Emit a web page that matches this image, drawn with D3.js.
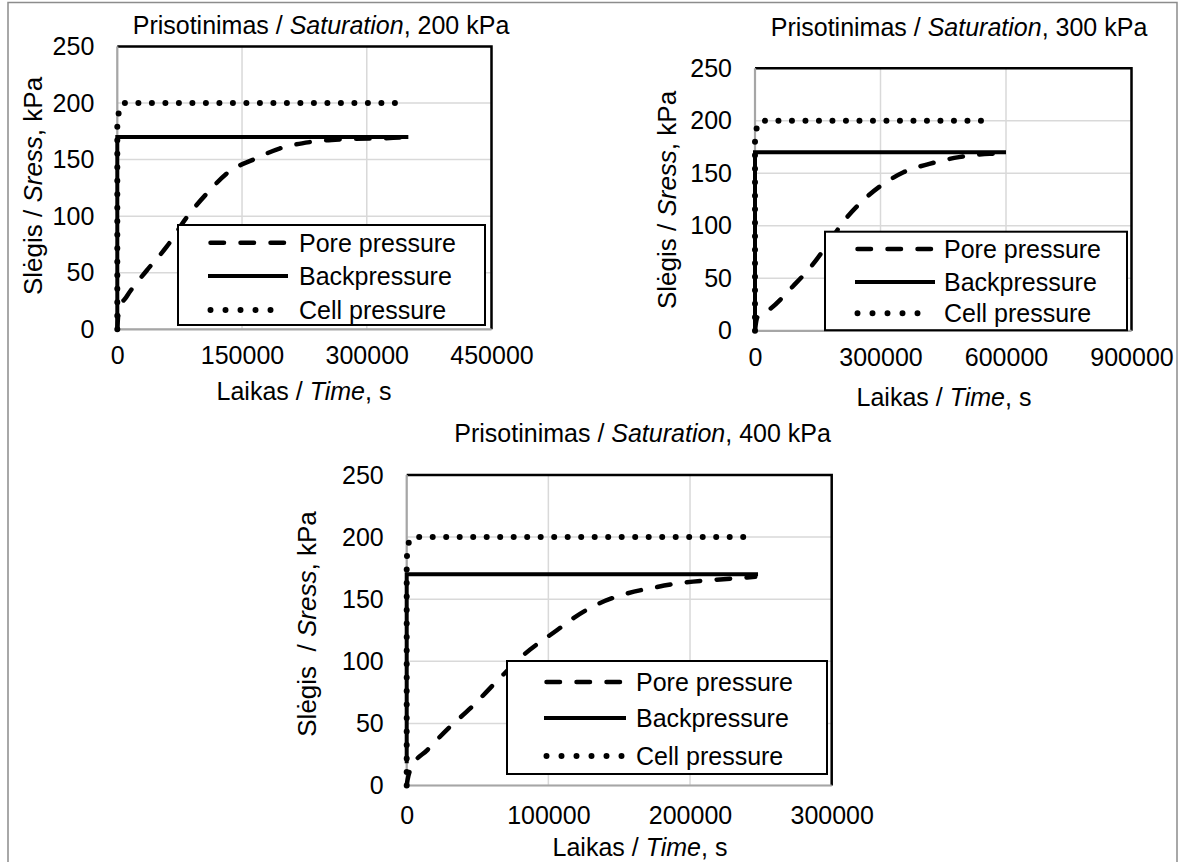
<!DOCTYPE html>
<html>
<head>
<meta charset="utf-8">
<script src="https://cdn.jsdelivr.net/npm/d3@7"></script>
<style>
  body { margin: 0; background: #fff; }
  svg { display: block; font-family: "Liberation Sans", Arial, sans-serif; }
</style>
</head>
<body>
<div id="chart"></div>
<script>
// ---- data: [time s, pressure kPa] ----

// 200 kPa
var pore200 = [[0,0],[800,10],[2500,18],[11300,29],[35400,52],[59400,73],[83500,99],[107600,120],
               [135600,140],[163600,150],[195800,160],[231900,165.5],[272000,168],[340000,169.5],[350000,170]]
var back200 = [[0,0],[0,170],[350000,170]]
var cell200 = [[0,0],[0,182],[2500,196],[7000,200],[337000,200]]

// 300 kPa
var pore300 = [[0,0],[1400,5],[5700,13],[36800,21],[89700,42],[133700,61],[169500,80],[213500,105],
               [257800,124],[302000,138.5],[355000,151],[416800,159],[487700,165.4],[561000,168.6],[600000,169]]
var back300 = [[0,0],[0,170],[600000,170]]
var cell300 = [[0,0],[0,182],[5000,196],[12000,200],[566000,200]]

// 400 kPa
var pore400 = [[0,0],[600,4.5],[3700,15],[14500,28.5],[29400,46],[45700,63],[64500,85],[83400,106],
               [106000,125],[118000,135],[134800,146],[153700,154],[175300,159.5],[197000,163.6],
               [218600,165.7],[240200,167.5],[246000,168]]
var back400 = [[0,18],[0,170],[248000,170]]
var cell400 = [[0,0],[0,183],[1500,196],[4000,200],[246000,200]]

var xTicks200 = [0, 150000, 300000, 450000]
var xTicks300 = [0, 300000, 600000, 900000]
var xTicks400 = [0, 100000, 200000, 300000]
var yTicks = [0, 50, 100, 150, 200, 250]

var legendNames = ["Pore pressure", "Backpressure", "Cell pressure"]

var fontSize = 25

// layout of each panel (pixel boxes)
var panels = [
  { kpa: "200 kPa", pore: pore200, back: back200, cell: cell200, xTicks: xTicks200,
    x0: 117.3, x1: 491.5, y0: 46.5, y1: 329.3, xPad: 17,
    title: [321, 25], xlab: [304, 391], ylab: [33, 186], ylabText: "Slėgis / ",
    leg: { x: 178, y: 225, w: 307, h: 100, rows: [17.7, 51, 85], s0: 30, s1: 110, tx: 121 } },
  { kpa: "300 kPa", pore: pore300, back: back300, cell: cell300, xTicks: xTicks300,
    x0: 755, x1: 1131.5, y0: 68.3, y1: 330.8, xPad: 17.5,
    title: [959, 27], xlab: [944, 397], ylab: [667, 200], ylabText: "Slėgis / ",
    leg: { x: 825, y: 231.7, w: 302, h: 98.5, rows: [17.3, 50.3, 81.5], s0: 30, s1: 110, tx: 119 } },
  { kpa: "400 kPa", pore: pore400, back: back400, cell: cell400, xTicks: xTicks400,
    x0: 406.7, x1: 831.7, y0: 475, y1: 785.5, xPad: 20.5,
    title: [642.6, 433.3], xlab: [640, 847], ylab: [307, 624], ylabText: "Slėgis  / ",
    leg: { x: 507, y: 661, w: 320, h: 113, rows: [21, 57, 95], s0: 37, s1: 119, tx: 129 } }
]

var svg = d3.select("#chart").append("svg")
    .attr("width", 1181)
    .attr("height", 862)

svg.append("rect").attr("width", 1181).attr("height", 862).attr("fill", "#fff")

// outer frame
svg.append("path")
    .attr("d", "M8,862 L8,2.5 L1177,2.5 L1177,862")
    .attr("fill", "none")
    .attr("stroke", "#8c8c8c")
    .attr("stroke-width", 1.5)

function styleSeries(sel, kind, legend) {
    sel.attr("fill", "none").attr("stroke", "#000")
    if (kind == 0) {
        sel.attr("stroke-width", 4.5).attr("stroke-dasharray", "13.5 16.5").attr("stroke-linecap", "round")
    } else if (kind == 1) {
        sel.attr("stroke-width", 4)
    } else {
        sel.attr("stroke-width", 6).attr("stroke-dasharray", legend ? "0 15" : "0 13.5").attr("stroke-linecap", "round")
    }
}

panels.forEach(function(p) {
    var x = d3.scaleLinear().domain([0, p.xTicks[p.xTicks.length - 1]]).range([p.x0, p.x1])
    var y = d3.scaleLinear().domain([0, 250]).range([p.y1, p.y0])
    var g = svg.append("g")

    // gridlines
    g.selectAll(".hg").data(yTicks).enter().append("line")
        .attr("x1", p.x0).attr("x2", p.x1)
        .attr("y1", function(d) { return y(d) }).attr("y2", function(d) { return y(d) })
        .attr("stroke", "#d9d9d9").attr("stroke-width", 1.5)
    g.selectAll(".vg").data(p.xTicks).enter().append("line")
        .attr("y1", p.y0).attr("y2", p.y1)
        .attr("x1", function(d) { return x(d) }).attr("x2", function(d) { return x(d) })
        .attr("stroke", "#d9d9d9").attr("stroke-width", 1.5)

    // plot frame: black top/right, grey axes left/bottom
    g.append("path")
        .attr("d", "M" + p.x0 + "," + p.y0 + " L" + p.x1 + "," + p.y0 + " L" + p.x1 + "," + p.y1)
        .attr("fill", "none").attr("stroke", "#000").attr("stroke-width", 2.5)
    g.append("path")
        .attr("d", "M" + p.x0 + "," + p.y0 + " L" + p.x0 + "," + p.y1 + " L" + p.x1 + "," + p.y1)
        .attr("fill", "none").attr("stroke", "#a6a6a6").attr("stroke-width", 2.2)

    // tick labels through d3 axes
    var ya = g.append("g").attr("transform", "translate(" + p.x0 + ",0)")
        .call(d3.axisLeft(y).tickValues(yTicks).tickSize(0).tickPadding(23))
    var xa = g.append("g").attr("transform", "translate(0," + p.y1 + ")")
        .call(d3.axisBottom(x).tickValues(p.xTicks).tickSize(0).tickPadding(p.xPad).tickFormat(d3.format("d")))
    ;[ya, xa].forEach(function(a) {
        a.select(".domain").remove()
        a.selectAll("text").attr("font-size", fontSize).attr("fill", "#000")
            .attr("font-family", "Liberation Sans, Arial, sans-serif")
    })

    // series
    var line = d3.line().x(function(d) { return x(d[0]) }).y(function(d) { return y(d[1]) })
    var smooth = d3.line().x(function(d) { return x(d[0]) }).y(function(d) { return y(d[1]) })
        .curve(d3.curveMonotoneX)
    g.append("path").attr("d", line(p.cell)).call(styleSeries, 2)
    g.append("path").attr("d", smooth(p.pore)).call(styleSeries, 0)
    g.append("path").attr("d", line(p.back)).call(styleSeries, 1)

    // legend
    var L = p.leg
    var lg = g.append("g").attr("transform", "translate(" + L.x + "," + L.y + ")")
    lg.append("rect").attr("width", L.w).attr("height", L.h)
        .attr("fill", "#fff").attr("stroke", "#000").attr("stroke-width", 2)
    legendNames.forEach(function(name, i) {
        var inset = i == 1 ? 0 : 2.5
        lg.append("line").attr("x1", L.s0 + inset).attr("x2", L.s1 - inset)
            .attr("y1", L.rows[i]).attr("y2", L.rows[i])
            .call(styleSeries, i, true)
        lg.append("text").attr("x", L.tx).attr("y", L.rows[i])
            .attr("dominant-baseline", "central").attr("font-size", fontSize)
            .text(name)
    })

    // title
    var t = g.append("text").attr("x", p.title[0]).attr("y", p.title[1])
        .attr("text-anchor", "middle").attr("dominant-baseline", "central").attr("font-size", fontSize)
    t.append("tspan").text("Prisotinimas / ")
    t.append("tspan").attr("font-style", "italic").text("Saturation")
    t.append("tspan").text(", " + p.kpa)

    // x label
    var xl = g.append("text").attr("x", p.xlab[0]).attr("y", p.xlab[1])
        .attr("text-anchor", "middle").attr("dominant-baseline", "central").attr("font-size", fontSize)
    xl.append("tspan").text("Laikas / ")
    xl.append("tspan").attr("font-style", "italic").text("Time")
    xl.append("tspan").text(", s")

    // y label
    var yl = g.append("text")
        .attr("transform", "translate(" + p.ylab[0] + "," + p.ylab[1] + ") rotate(-90)")
        .attr("text-anchor", "middle").attr("dominant-baseline", "central").attr("font-size", 26)
        .style("white-space", "pre")
    yl.append("tspan").text(p.ylabText)
    yl.append("tspan").attr("font-style", "italic").text("Sress")
    yl.append("tspan").text(", kPa")
})
</script>
</body>
</html>
